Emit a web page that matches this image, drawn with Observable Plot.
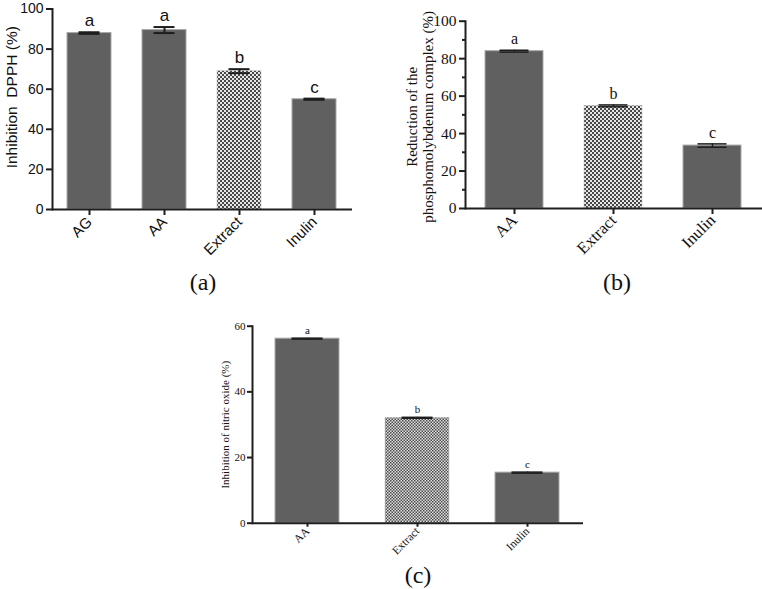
<!DOCTYPE html>
<html>
<head>
<meta charset="utf-8">
<script src="https://cdn.jsdelivr.net/npm/d3@7"></script>
<script src="https://cdn.jsdelivr.net/npm/@observablehq/plot@0.6"></script>
<style>
  html, body { margin: 0; padding: 0; background: #fff; }
  #root { position: relative; width: 762px; height: 589px; overflow: hidden; background: #fff; }
  .panel { position: absolute; }
  .tag { position: absolute; font-family: "Liberation Serif", "Times New Roman", serif; font-size: 24px; color: #111; transform: translate(-50%, -50%); line-height: 1; }
</style>
</head>
<body>
<svg width="0" height="0" style="position:absolute">
  <defs>
    <pattern id="checker" width="4" height="4" patternUnits="userSpaceOnUse">
      <rect width="4" height="4" fill="#e6e6e6"></rect>
      <rect width="2" height="2" fill="#484848"></rect>
      <rect x="2" y="2" width="2" height="2" fill="#484848"></rect>
    </pattern>
    <pattern id="checkerSmall" width="3" height="3" patternUnits="userSpaceOnUse">
      <rect width="3" height="3" fill="#e0e0e0"></rect>
      <rect width="1.5" height="1.5" fill="#4a4a4a"></rect>
      <rect x="1.5" y="1.5" width="1.5" height="1.5" fill="#4a4a4a"></rect>
    </pattern>
  </defs>
</svg>
<div id="root"></div>
<script>
// ---- Panel (a): DPPH ----
const dpphCategories = ["AG", "AA", "Extract", "Inulin"];
const dpphValues = [88.0, 89.5, 69.0, 55.0];
const dpphErrors = [0.4, 1.5, 1.0, 0.3];
const dpphLetters = ["a", "a", "b", "c"];
const dpphTicks = [0, 20, 40, 60, 80, 100];
const dpphLabel = "Inhibition  DPPH (%)";

// ---- Panel (b): phosphomolybdenum ----
const phosphoCategories = ["AA", "Extract", "Inulin"];
const phosphoValues = [84.0, 54.8, 33.6];
const phosphoErrors = [0.5, 0.5, 0.9];
const phosphoLetters = ["a", "b", "c"];
const phosphoTicks = [0, 20, 40, 60, 80, 100];
const phosphoMinorTicks = [10, 30, 50, 70, 90];
const phosphoLabel = "Reduction of the\nphosphomolybdenum complex (%)";

// ---- Panel (c): nitric oxide ----
const nitricCategories = ["AA", "Extract", "Inulin"];
const nitricValues = [56.2, 32.1, 15.4];
const nitricErrors = [0.15, 0.15, 0.15];
const nitricLetters = ["a", "b", "c"];
const nitricTicks = [0, 20, 40, 60];
const nitricLabel = "Inhibition of nitric oxide (%)";

const panelTags = ["(a)", "(b)", "(c)"];

const root = document.getElementById("root");

function rows(cats, vals, errs, letters) {
  return cats.map((c, i) => ({cat: c, value: vals[i], err: errs[i], letter: letters[i]}));
}

function panel(cfg) {
  const data = rows(cfg.cats, cfg.vals, cfg.errs, cfg.letters);
  const ink = "#1e1e1e";
  const marks = [
    Plot.barY(data.filter(d => d.cat !== "Extract"), {x: "cat", y: "value", fill: "#606060", stroke: "#a9a9a9", strokeWidth: 1}),
    Plot.barY(data.filter(d => d.cat === "Extract"), {x: "cat", y: "value", fill: cfg.pattern, stroke: "#bdbdbd", strokeWidth: 0.5}),
    Plot.ruleX(data, {x: "cat", y1: d => d.value - d.err, y2: d => d.value + d.err, stroke: ink, strokeWidth: cfg.errWidth}),
    Plot.tickY(data, {x: "cat", y: d => d.value + d.err, stroke: ink, strokeWidth: cfg.errWidth, insetLeft: cfg.capInset, insetRight: cfg.capInset}),
    Plot.tickY(data, {x: "cat", y: d => d.value - d.err, stroke: ink, strokeWidth: cfg.errWidth, insetLeft: cfg.capInset, insetRight: cfg.capInset}),
    Plot.text(data, {x: "cat", y: d => d.value + d.err, text: "letter", dy: cfg.letterDy, lineAnchor: "bottom", fontSize: cfg.letterSize, fill: "#111"}),
    Plot.axisY(cfg.ticks, {tickSize: cfg.tickSize, tickPadding: cfg.tickPadding, stroke: ink, strokeWidth: cfg.axisWidth, fontSize: cfg.yTickFont, fill: "#111", label: null}),
    Plot.axisX({tickRotate: -45, tickSize: cfg.xTickSize, tickPadding: cfg.xTickPadding, stroke: ink, strokeWidth: cfg.axisWidth, fontSize: cfg.xTickFont, fill: "#111", label: null}),
    Plot.frame({anchor: "left", stroke: ink, strokeWidth: cfg.axisWidth}),
    Plot.ruleY([0], {stroke: ink, strokeWidth: cfg.axisWidth}),
    Plot.text([cfg.label], {text: d => d, frameAnchor: "left", textAnchor: "middle", lineAnchor: "middle", rotate: -90, dx: cfg.labelDx, dy: cfg.labelDy, fontSize: cfg.labelSize, lineHeight: cfg.lineHeight || 1, fill: "#111"})
  ];
  if (cfg.minor) {
    marks.push(Plot.axisY(cfg.minor, {tickSize: cfg.minorSize, tickFormat: () => "", stroke: ink, strokeWidth: cfg.axisWidth, label: null}));
  }
  const svg = Plot.plot({
    width: cfg.width,
    height: cfg.height,
    marginLeft: cfg.ml, marginRight: cfg.mr, marginTop: cfg.mt, marginBottom: cfg.mb,
    style: {fontFamily: cfg.font, fontSize: "12px", overflow: "visible", background: "transparent", color: "#111"},
    x: {domain: cfg.cats, paddingInner: cfg.pi, paddingOuter: cfg.po, label: null},
    y: {domain: cfg.domain, label: null},
    marks
  });
  const holder = document.createElement("div");
  holder.className = "panel";
  holder.style.left = cfg.left + "px";
  holder.style.top = cfg.top + "px";
  holder.appendChild(svg);
  root.appendChild(holder);
}

const sans = "'Liberation Sans', Arial, sans-serif";
const serif = "'Liberation Serif', 'Times New Roman', serif";

panel({
  cats: dpphCategories, vals: dpphValues, errs: dpphErrors, letters: dpphLetters,
  ticks: dpphTicks, domain: [0, 100], label: dpphLabel, pattern: "url(#checker)",
  left: 0, top: 0, width: 362, height: 260, ml: 52, mr: 10, mt: 8.5, mb: 51,
  pi: 0.41, po: 0.18, font: sans,
  errWidth: 2, capInset: 11.5, letterDy: -6, letterSize: 17,
  tickSize: 6, tickPadding: 3, axisWidth: 2, yTickFont: 14,
  xTickSize: 6, xTickPadding: 4, xTickFont: 15,
  labelDx: -40, labelDy: -12, labelSize: 15.5
});

panel({
  cats: phosphoCategories, vals: phosphoValues, errs: phosphoErrors, letters: phosphoLetters,
  ticks: phosphoTicks, minor: phosphoMinorTicks, minorSize: 3, domain: [0, 100], label: phosphoLabel, pattern: "url(#checker)",
  left: 380, top: 0, width: 382, height: 260, ml: 85, mr: 0, mt: 20.7, mb: 52,
  pi: 0.414, po: 0.207, font: serif,
  errWidth: 1.5, capInset: 14.5, letterDy: -6, letterSize: 16,
  tickSize: 6, tickPadding: 3, axisWidth: 2, yTickFont: 15.5,
  xTickSize: 6, xTickPadding: 3, xTickFont: 16.5,
  labelDx: -46, labelDy: 2, labelSize: 15, lineHeight: 1.1
});

panel({
  cats: nitricCategories, vals: nitricValues, errs: nitricErrors, letters: nitricLetters,
  ticks: nitricTicks, domain: [0, 60], label: nitricLabel, pattern: "url(#checkerSmall)",
  left: 180, top: 300, width: 410, height: 270, ml: 72, mr: 7, mt: 25.7, mb: 47.3,
  pi: 0.414, po: 0.2, font: serif,
  errWidth: 1.5, capInset: 16.5, letterDy: -4, letterSize: 11,
  tickSize: 5, tickPadding: 2, axisWidth: 2, yTickFont: 11,
  xTickSize: 4, xTickPadding: 2, xTickFont: 11.5,
  labelDx: -27, labelDy: 0, labelSize: 11
});

const tagPos = [[203, 282], [617, 282], [418, 575]];
panelTags.forEach((t, i) => {
  const el = document.createElement("div");
  el.className = "tag";
  el.textContent = t;
  el.style.left = tagPos[i][0] + "px";
  el.style.top = tagPos[i][1] + "px";
  root.appendChild(el);
});
</script>
</body>
</html>
